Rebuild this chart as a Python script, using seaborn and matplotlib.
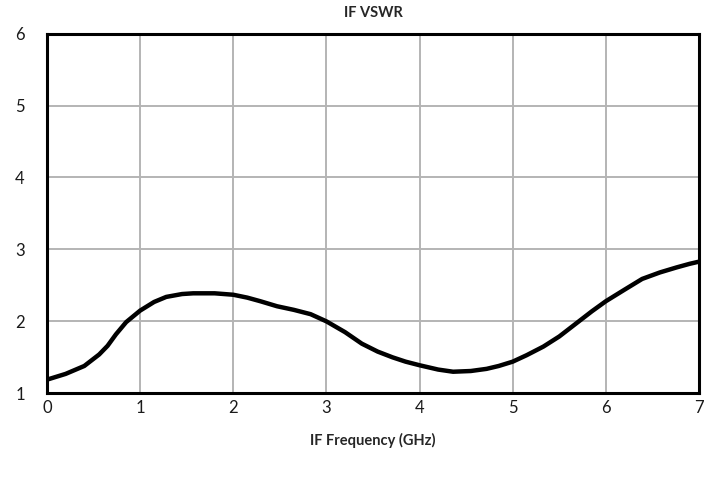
import matplotlib
matplotlib.use("Agg")
import matplotlib.pyplot as plt
import seaborn as sns
import pandas as pd

# values
freq_ghz = [0.0, 0.2, 0.4, 0.56, 0.65, 0.74, 0.85, 1.0, 1.15, 1.28, 1.45, 1.57, 1.8, 2.0,
            2.15, 2.29, 2.47, 2.65, 2.83, 3.0, 3.2, 3.38, 3.55, 3.71, 3.85, 4.0, 4.2,
            4.36, 4.55, 4.72, 4.85, 5.0, 5.15, 5.33, 5.5, 5.68, 5.85, 6.0, 6.2, 6.39,
            6.58, 6.76, 6.9, 7.0]
vswr = [1.19, 1.27, 1.38, 1.54, 1.66, 1.82, 1.99, 2.15, 2.27, 2.34, 2.38, 2.39, 2.39, 2.37,
        2.33, 2.28, 2.21, 2.16, 2.10, 2.00, 1.85, 1.69, 1.58, 1.50, 1.44, 1.39, 1.33,
        1.30, 1.31, 1.34, 1.38, 1.44, 1.53, 1.65, 1.79, 1.97, 2.14, 2.28, 2.44, 2.59,
        2.68, 2.75, 2.80, 2.83]
x_ticks = [0, 1, 2, 3, 4, 5, 6, 7]
y_ticks = [1, 2, 3, 4, 5, 6]

df = pd.DataFrame({"freq": freq_ghz, "vswr": vswr})

sns.set_style("white")
plt.rcParams["font.family"] = ["Lato", "DejaVu Sans"]

fig = plt.figure(figsize=(7.18, 4.8), dpi=100)
ax = fig.add_axes([0.0655, 0.1806, 0.908, 0.7494])

sns.lineplot(data=df, x="freq", y="vswr", ax=ax, color="black", linewidth=3.2)

ax.set_xlim(0, 7)
ax.set_ylim(1, 6)
ax.set_xticks(x_ticks)
ax.set_yticks(y_ticks)
ax.grid(True, color="#b4b4b4", linewidth=1.4)
ax.set_axisbelow(True)
for side in ["left", "bottom", "top", "right"]:
    ax.spines[side].set_visible(True)
    ax.spines[side].set_color("black")
    ax.spines[side].set_linewidth(2.2)
ax.tick_params(axis="both", length=0, labelsize=12, colors="#1a1a1a")
ax.tick_params(axis="x", pad=5)
ax.tick_params(axis="y", pad=16)

ax.set_title("IF VSWR", fontsize=10.5, fontweight="bold", pad=12)
ax.set_xlabel("IF Frequency (GHz)", fontsize=10.5, fontweight="bold", labelpad=12)
ax.set_ylabel("")

fig.savefig("out.png", dpi=100)
